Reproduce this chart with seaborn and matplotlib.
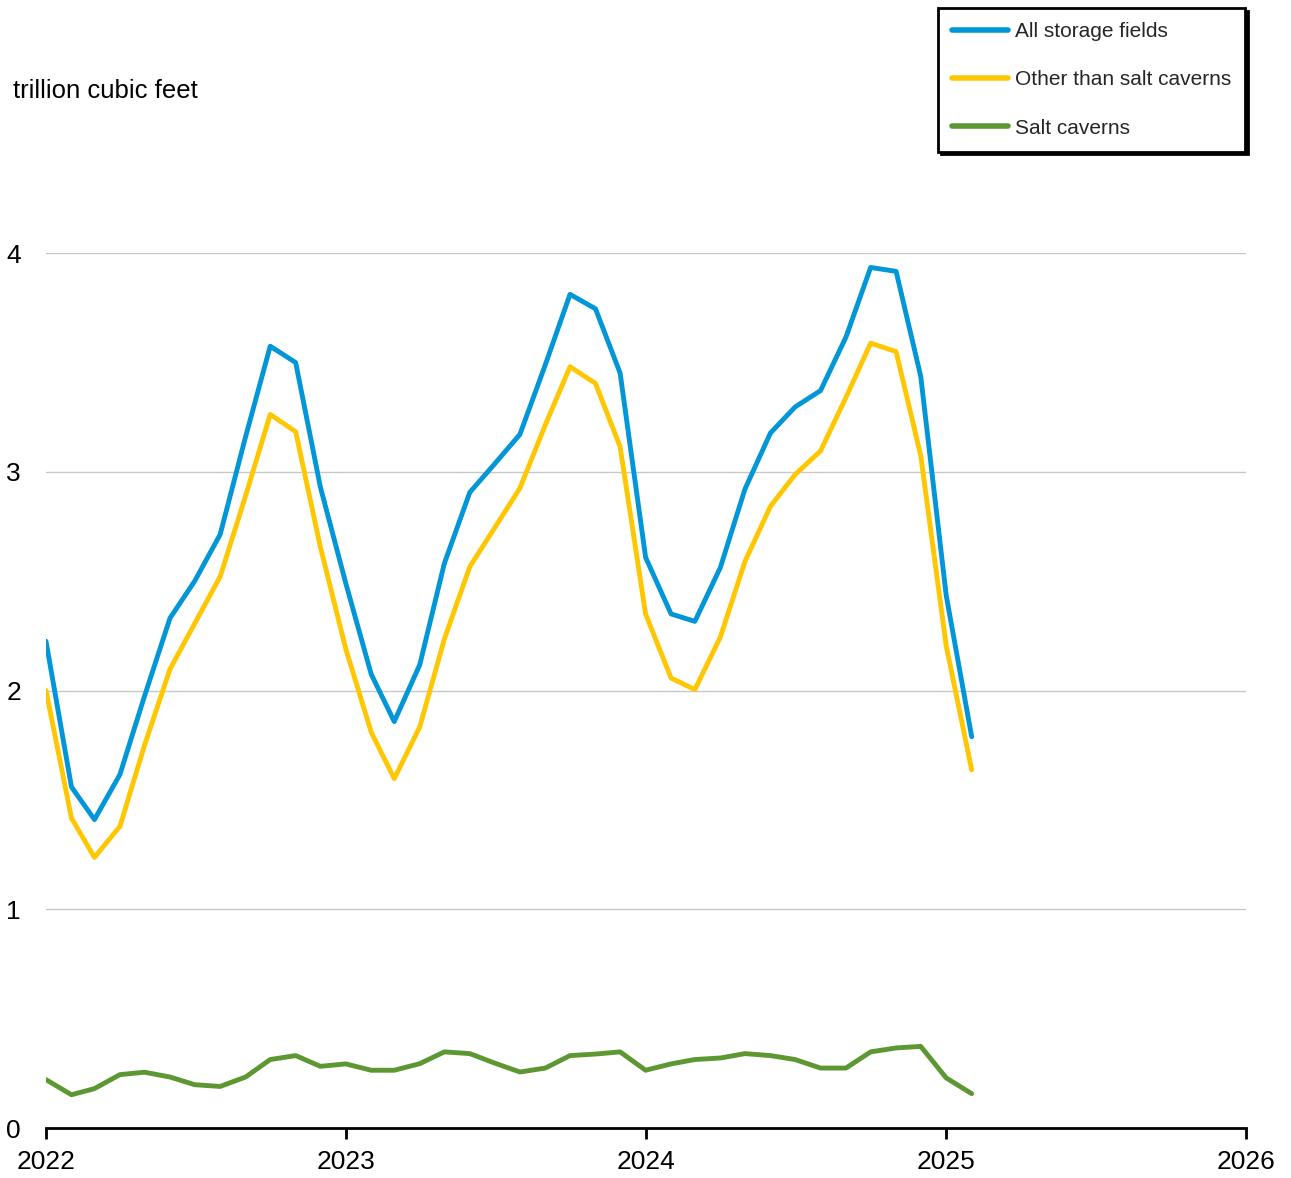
import numpy as np
import pandas as pd
import matplotlib
matplotlib.use("Agg")
import matplotlib.pyplot as plt
import matplotlib.dates as mdates
import seaborn as sns

# ── Data (monthly, Jan 2022 – Feb 2025, trillion cubic feet) ─────────
months = pd.date_range("2022-01-01", periods=38, freq="MS")

all_fields = [
    2.225, 1.559, 1.41, 1.616, 1.975, 2.331, 2.50, 2.713, 3.16, 3.574, 3.499, 2.931,
    2.49, 2.074, 1.858, 2.117, 2.581, 2.906, 3.035, 3.171, 3.49, 3.811, 3.745, 3.451,
    2.609, 2.35, 2.316, 2.562, 2.921, 3.177, 3.296, 3.371, 3.616, 3.934, 3.916, 3.436,
    2.435, 1.789,
]
other_than_salt = [
    2.0, 1.417, 1.237, 1.379, 1.75, 2.098, 2.306, 2.52, 2.89, 3.262, 3.183, 2.657,
    2.19, 1.809, 1.597, 1.833, 2.235, 2.566, 2.742, 2.925, 3.215, 3.48, 3.404, 3.114,
    2.35, 2.057, 2.004, 2.244, 2.59, 2.842, 2.987, 3.095, 3.34, 3.588, 3.549, 3.074,
    2.204, 1.637,
]
salt_caverns = [
    0.221, 0.152, 0.18, 0.244, 0.255, 0.233, 0.198, 0.19, 0.233, 0.313, 0.331, 0.282,
    0.293, 0.264, 0.264, 0.294, 0.348, 0.34, 0.297, 0.256, 0.274, 0.331, 0.338, 0.348,
    0.264, 0.293, 0.313, 0.32, 0.34, 0.331, 0.313, 0.274, 0.274, 0.348, 0.366, 0.373,
    0.229, 0.157,
]

series_names  = ["All storage fields", "Other than salt caverns", "Salt caverns"]
series_colors = ["#0096D7", "#FFC702", "#5D9732"]
year_ticks    = ["2022", "2023", "2024", "2025", "2026"]
y_ticks       = [0, 1, 2, 3, 4]

df = pd.concat(
    [
        pd.DataFrame({"date": months, "value": vals, "series": name})
        for name, vals in zip(series_names, [all_fields, other_than_salt, salt_caverns])
    ],
    ignore_index=True,
)

# ── Figure ───────────────────────────────────────────────────────────
sns.set_theme(style="white")
plt.rcParams["font.family"] = ["Liberation Sans", "DejaVu Sans"]

W, H = 1291, 1178
fig = plt.figure(figsize=(W / 100, H / 100), dpi=100)
ax = fig.add_axes([46 / W, (H - 1128) / H, 1200 / W, 875 / H])

sns.lineplot(
    data=df, x="date", y="value", hue="series",
    hue_order=series_names, palette=series_colors,
    linewidth=3.5, ax=ax, legend=True,
)

ax.set_xlim(pd.Timestamp("2022-01-01"), pd.Timestamp("2026-01-01"))
ax.set_ylim(0, 4)
ax.set_yticks(y_ticks)
ax.set_xticks([pd.Timestamp(f"{y}-01-01") for y in year_ticks])
ax.xaxis.set_major_formatter(mdates.DateFormatter("%Y"))
ax.set_xlabel("")
ax.set_ylabel("")

for g in y_ticks[1:]:
    ax.axhline(g, color="#c8c8c8", linewidth=1, zorder=0)

for s in ["top", "right", "left"]:
    ax.spines[s].set_visible(False)
ax.spines["bottom"].set_color("black")
ax.spines["bottom"].set_linewidth(2)

ax.tick_params(axis="y", length=0, pad=18, labelsize=19, labelcolor="black")
ax.tick_params(axis="x", direction="out", length=8, width=2, color="black",
               pad=8, labelsize=19, labelcolor="black", bottom=True)

# ── Unit label + legend ─────────────────────────────────────────────
fig.text(13 / W, 1 - 91 / H, "trillion cubic feet", fontsize=18.5,
         ha="left", va="center", color="black")

handles, labels = ax.get_legend_handles_labels()
ax.legend(
    handles, labels,
    loc="upper right",
    bbox_to_anchor=(1245 / W, 1 - 8 / H),
    bbox_transform=fig.transFigure,
    borderaxespad=0,
    fontsize=15,
    frameon=True,
    fancybox=False,
    edgecolor="black",
    shadow={"color": "black", "alpha": 1},
    labelspacing=1.4,
    handlelength=2.7,
    handletextpad=0.3,
    borderpad=0.68,
)
leg = ax.get_legend()
leg.get_frame().set_linewidth(2)
for line in leg.get_lines():
    line.set_linewidth(4)

fig.savefig("out.png", dpi=100)
plt.close(fig)
